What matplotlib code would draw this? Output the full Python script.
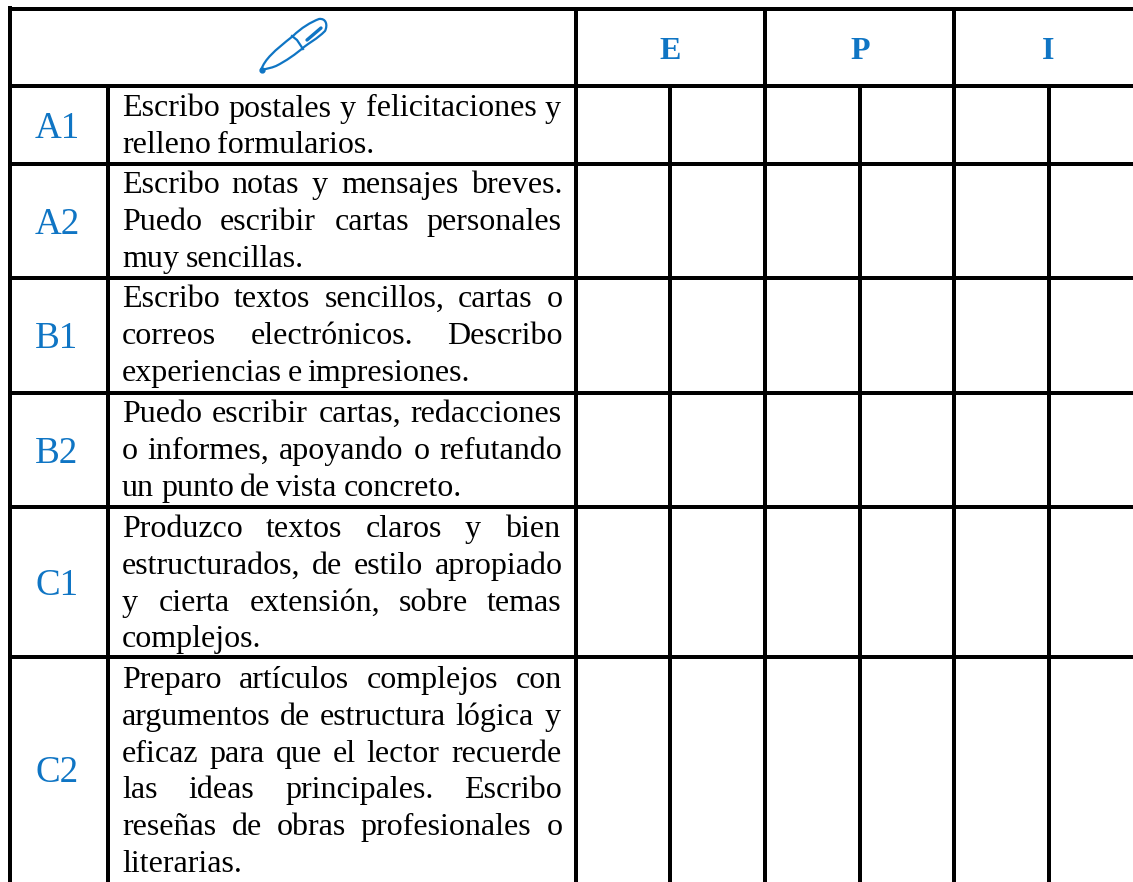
import matplotlib
matplotlib.use('Agg')
import matplotlib.pyplot as plt
from matplotlib.font_manager import FontProperties
from matplotlib.patches import PathPatch
from matplotlib.path import Path
from matplotlib.textpath import TextPath

BLUE = '#0f75c4'
W, H = 1133, 882

levels = ['A1', 'A2', 'B1', 'B2', 'C1', 'C2']
headers = ['E', 'P', 'I']
descriptions = [
    ['Escribo postales y felicitaciones y', 'relleno formularios.'],
    ['Escribo notas y mensajes breves.', 'Puedo escribir cartas personales', 'muy sencillas.'],
    ['Escribo textos sencillos, cartas o', 'correos electrónicos. Describo', 'experiencias e impresiones.'],
    ['Puedo escribir cartas, redacciones', 'o informes, apoyando o refutando', 'un punto de vista concreto.'],
    ['Produzco textos claros y bien', 'estructurados, de estilo apropiado', 'y cierta extensión, sobre temas', 'complejos.'],
    ['Preparo artículos complejos con', 'argumentos de estructura lógica y', 'eficaz para que el lector recuerde',
     'las ideas principales. Escribo', 'reseñas de obras profesionales o', 'literarias.'],
]

# grid positions in pixels
row_y = [9, 85.5, 164, 278, 393, 507, 657, H]
col_x = [9.5, 107.5, 576, 670, 765, 860, 954, 1049]
first_baseline = [116.5, 193, 307, 422, 537, 688]
line_step = 36.8

fig = plt.figure(figsize=(W / 100, H / 100), dpi=100)
ax = fig.add_axes([0, 0, 1, 1])
ax.set_xlim(0, W)
ax.set_ylim(H, 0)
ax.axis('off')

lw = 4 * 0.72
for y in row_y[:-1]:
    ax.plot([col_x[0], W], [y, y], color='black', lw=lw, solid_capstyle='butt')
# full height verticals, the outer one sticks out a little at the top
ax.plot([col_x[0], col_x[0]], [row_y[0] - 3, H], color='black', lw=lw, solid_capstyle='butt')
for x in [col_x[2], col_x[4], col_x[6]]:
    ax.plot([x, x], [row_y[0], H], color='black', lw=lw, solid_capstyle='butt')
# verticals below the header
for x in [col_x[1], col_x[3], col_x[5], col_x[7]]:
    ax.plot([x, x], [row_y[1], H], color='black', lw=lw, solid_capstyle='butt')

serif = FontProperties(family='Liberation Serif')
size_px = 32
left, right = 122, 560
ref_size = 100


def word_width(s):
    return TextPath((0, 0), s, size=ref_size, prop=serif).get_extents().width * size_px / ref_size


def draw_line(s, y, justify):
    words = s.split(' ')
    widths = [word_width(w) for w in words]
    gap = size_px * 0.25
    if justify and len(words) > 1:
        gap = (right - left - sum(widths)) / (len(words) - 1)
    x = left
    for w, wd in zip(words, widths):
        ax.text(x, y, w, fontproperties=serif, fontsize=size_px * 0.72, va='baseline', ha='left', color='black')
        x += wd + gap


for i, (lev, lines) in enumerate(zip(levels, descriptions)):
    mid = (row_y[i + 1] + row_y[i + 2]) / 2
    ax.text(57, mid + 13, lev, fontproperties=serif, fontsize=37 * 0.72,
            color=BLUE, ha='center', va='baseline')
    for j, s in enumerate(lines):
        draw_line(s, first_baseline[i] + line_step * j, j < len(lines) - 1)

for h, xc in zip(headers, [670, 860, 1048]):
    ax.text(xc, 59, h, fontproperties=serif, fontsize=32 * 0.72, fontweight='bold', color=BLUE,
            ha='center', va='baseline')

# pen icon
C = Path.CURVE4
outline = [(261, 70), (265, 59), (274, 51), (293, 36),
           (301, 28), (311, 22), (319, 19),
           (326, 18), (328, 25), (325, 31),
           (317, 39), (309, 43), (304, 47),
           (296, 54), (286, 61), (276, 66),
           (271, 68), (266, 69), (261, 70)]
code = [Path.MOVETO] + [C] * (len(outline) - 1)
ax.add_patch(PathPatch(Path(outline, code), fc='none', ec=BLUE, lw=1.6, joinstyle='round'))
ax.plot([292, 297, 303], [36, 40, 49], color=BLUE, lw=1.6)
ax.plot([307, 321], [40, 28], color=BLUE, lw=2.4, solid_capstyle='round')
ax.plot([261.5], [69.5], 'o', color=BLUE, ms=3.5)

fig.savefig('out.png', dpi=100)
